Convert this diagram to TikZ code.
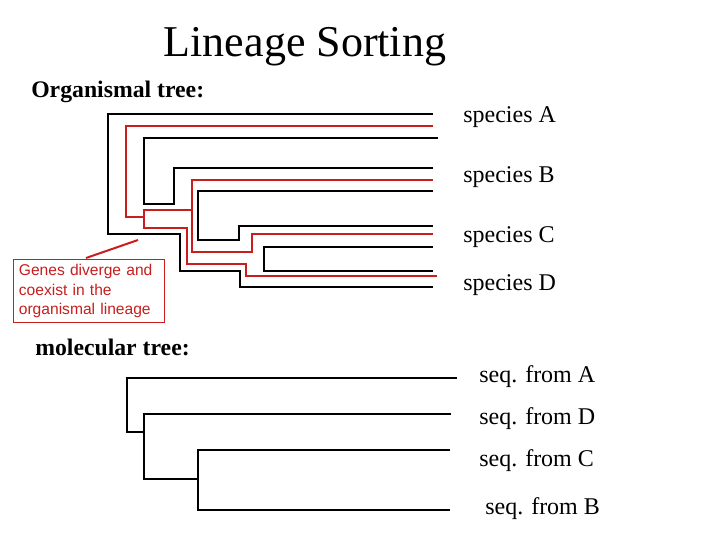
\documentclass[tikz,border=0pt]{standalone}
\usepackage{fontspec}
\setmainfont{Liberation Serif}
\newfontfamily\arialf{Liberation Sans}
\definecolor{dred}{RGB}{200,30,30}
\begin{document}
\begin{tikzpicture}[x=0.75pt,y=-0.75pt,
  blk/.style={black,line width=1.1pt},
  rd/.style={dred,line width=1.1pt},
  lab/.style={anchor=west,font=\fontsize{18}{21}\selectfont,inner sep=0pt},
  hdr/.style={anchor=west,font=\fontsize{17.8}{21}\selectfont\bfseries,inner sep=0pt}]
\useasboundingbox[fill=white] (0,0) rectangle (720,540);
\node (title) at (305,47) {\fontsize{33}{37}\selectfont Lineage Sorting};
\node[hdr] (org) at (31,92) {Organismal tree:};
\node[hdr] (mol) at (35,347) {molecular tree:};
\node[lab] (sA) at (463,117) {species A};
\node[lab] (sB) at (463,177) {species B};
\node[lab] (sC) at (463,237) {species C};
\node[lab] (sD) at (463,285) {species D};
\node[lab] (mA) at (479,377) {seq. from A};
\node[lab] (mD) at (479,419) {seq. from D};
\node[lab] (mC) at (479,461) {seq. from C};
\node[lab] (mB) at (485,509) {seq. from B};
% organismal tree black
\draw[blk] (433,114) -- (108,114) -- (108,234) -- (180,234) -- (180,271) -- (240,271) -- (240,287) -- (433,287);
\draw[blk] (438,138) -- (144,138) -- (144,204) -- (174,204) -- (174,168) -- (433,168);
\draw[blk] (433,191) -- (198,191) -- (198,240) -- (239,240) -- (239,226) -- (433,226);
\draw[blk] (433,247) -- (264,247) -- (264,271) -- (433,271);
% red gene tree
\draw[rd] (433,126) -- (126,126) -- (126,217) -- (144,217);
\draw[rd] (192,210) -- (144,210) -- (144,228) -- (187,228) -- (187,264) -- (246,264) -- (246,276) -- (437,276);
\draw[rd] (433,180) -- (192,180) -- (192,252) -- (252,252) -- (252,234) -- (433,234);
% note
\node[draw=dred,line width=0.8pt,text=dred,align=left,anchor=north west,inner xsep=4pt,inner ysep=3pt,
  font=\arialf\fontsize{11.7}{14.6}\selectfont,text width=140*0.75pt,minimum height=63*0.75pt] (note) at (13,259)
  {Genes diverge and\\coexist in the\\organismal lineage};
\coordinate (tip) at (138,240);
\draw[dred,line width=1.5pt] (86,258) -- (tip);
% molecular tree
\draw[blk] (457,378) -- (127,378) -- (127,432) -- (144,432);
\draw[blk] (451,414) -- (144,414) -- (144,479) -- (198,479);
\draw[blk] (450,450) -- (198,450) -- (198,510) -- (450,510);
\end{tikzpicture}
\end{document}
